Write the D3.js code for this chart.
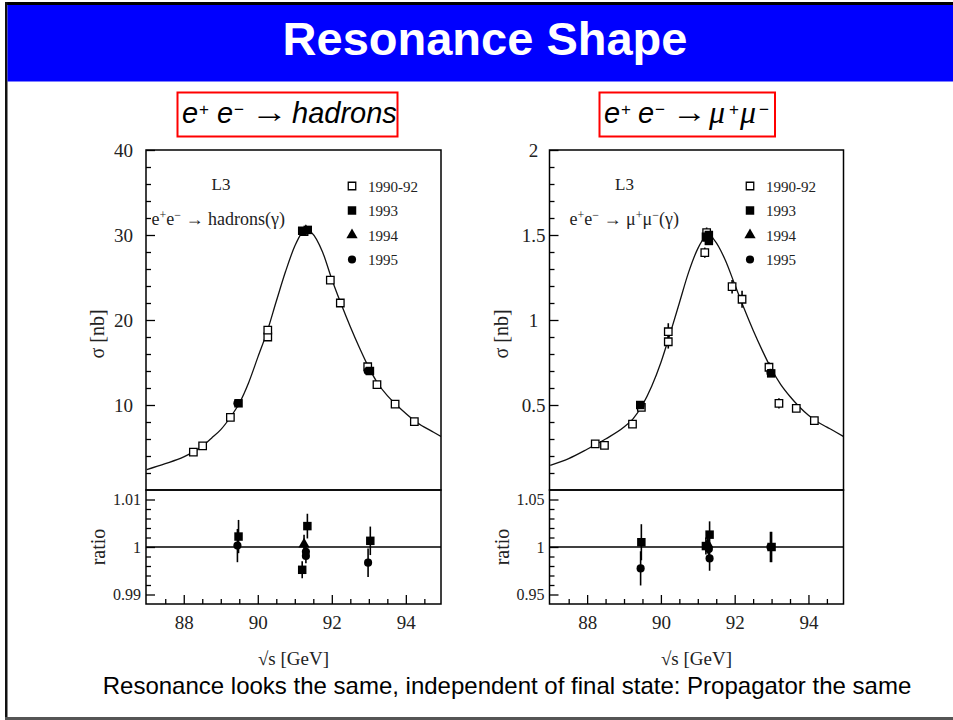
<!DOCTYPE html>
<html lang="en">
<head>
<meta charset="utf-8">
<title>Resonance Shape</title>
<script src="https://d3js.org/d3.v7.min.js"></script>
<style>
  body { margin: 0; background: #fff; }
  #slide svg { display: block; }
</style>
</head>
<body>
<div id="slide"></div>
<script>
// ---- shared axis values ----
const xDomain = [86.98, 94.95];
const xTickLabels = [88, 90, 92, 94];
const xMinorTicks = [87.5, 88.5, 89, 89.5, 90.5, 91, 91.5, 92.5, 93, 93.5, 94.5];
const legendLabels = ['1990-92', '1993', '1994', '1995'];

// ---- e+e- -> hadrons : [sqrt(s) GeV, sigma nb] ----
const hadCurve = [
  [87.0, 2.4], [87.5, 3.1], [88.0, 3.9], [88.25, 4.45], [88.5, 5.15], [88.75, 6.1],
  [89.0, 7.1], [89.25, 8.5], [89.5, 10.2], [89.75, 12.6], [90.0, 15.6], [90.25, 18.6],
  [90.5, 22.2], [90.75, 25.7], [91.0, 28.7], [91.2, 30.3], [91.3, 30.6], [91.45, 30.3],
  [91.75, 28.0], [92.0, 24.8], [92.25, 21.9], [92.5, 19.2], [92.75, 16.7], [93.0, 14.4],
  [93.25, 12.5], [93.5, 11.1], [93.75, 10.0], [94.0, 9.0], [94.25, 8.1], [94.5, 7.4],
  [94.75, 6.8], [94.95, 6.3]
];
// [sqrt(s), value, error]
const had9092 = [
  [88.26, 4.45, 0.05], [88.51, 5.2, 0.06], [89.26, 8.55, 0.08], [90.27, 18.0, 0.15],
  [90.27, 18.8, 0.15], [91.25, 30.4, 0.2], [91.96, 24.7, 0.2], [92.23, 22.0, 0.2],
  [92.97, 14.5, 0.15], [93.22, 12.4, 0.12], [93.71, 10.1, 0.1], [94.23, 8.05, 0.1]
];
const had1993 = [[89.48, 10.2, 0.05], [91.2, 30.5, 0.1], [91.35, 30.6, 0.1], [93.03, 14.0, 0.08]];
const had1994 = [[91.3, 30.5, 0.1]];
const had1995 = [[89.45, 10.2, 0.05], [91.3, 30.5, 0.1], [92.97, 14.0, 0.08]];
const hadRatio9092 = [];
const hadRatio1993 = [[89.48, 1.0022, 0.0035], [91.2, 0.9952, 0.0018], [91.34, 1.0044, 0.0026], [93.04, 1.0013, 0.003]];
const hadRatio1994 = [[91.25, 1.0006, 0.002]];
const hadRatio1995 = [[89.45, 1.0003, 0.0035], [91.3, 0.999, 0.0015], [91.3, 0.9981, 0.0015], [92.98, 0.9967, 0.003]];
const hadYTicks = [10, 20, 30, 40];
const hadYMinor = [2, 4, 6, 8, 12, 14, 16, 18, 22, 24, 26, 28, 32, 34, 36, 38];
const hadRatioTicks = [0.99, 1, 1.01];
const hadRatioMinor = [0.992, 0.994, 0.996, 0.998, 1.002, 1.004, 1.006, 1.008];

// ---- e+e- -> mu+mu- ----
const muCurve = [
  [87.0, 0.145], [87.5, 0.185], [88.0, 0.24], [88.5, 0.30], [89.0, 0.37], [89.25, 0.42],
  [89.5, 0.50], [89.75, 0.61], [90.0, 0.75], [90.25, 0.92], [90.5, 1.10], [90.75, 1.28],
  [91.0, 1.42], [91.2, 1.49], [91.3, 1.50], [91.45, 1.47], [91.75, 1.35], [92.0, 1.21],
  [92.25, 1.07], [92.5, 0.94], [92.75, 0.82], [93.0, 0.71], [93.25, 0.62], [93.5, 0.55],
  [93.75, 0.49], [94.0, 0.44], [94.25, 0.40], [94.5, 0.37], [94.75, 0.34], [94.95, 0.315]
];
const mu9092 = [
  [88.22, 0.271, 0.015], [88.47, 0.263, 0.015], [89.23, 0.388, 0.02], [89.47, 0.486, 0.02],
  [90.2, 0.931, 0.05], [90.2, 0.872, 0.04], [91.19, 1.396, 0.03], [91.24, 1.514, 0.03],
  [91.93, 1.196, 0.04], [92.2, 1.122, 0.05], [92.93, 0.722, 0.03], [93.2, 0.51, 0.03],
  [93.67, 0.48, 0.02], [94.16, 0.408, 0.02]
];
const mu1993 = [[89.44, 0.5, 0.01], [91.22, 1.49, 0.02], [91.3, 1.5, 0.02], [91.3, 1.465, 0.02], [92.99, 0.686, 0.015]];
const mu1994 = [[91.27, 1.48, 0.02]];
const mu1995 = [[89.45, 0.5, 0.01], [91.3, 1.48, 0.02], [92.97, 0.69, 0.015]];
const muRatio9092 = [];
const muRatio1993 = [[89.47, 1.005, 0.019], [91.22, 1.001, 0.009], [91.32, 1.013, 0.014], [93.0, 1.0, 0.016]];
const muRatio1994 = [[91.27, 1.003, 0.01]];
const muRatio1995 = [[89.45, 0.9775, 0.018], [91.3, 0.998, 0.01], [91.32, 0.988, 0.013], [92.97, 1.0, 0.016]];
const muYTicks = [0.5, 1, 1.5, 2];
const muYMinor = [0.1, 0.2, 0.3, 0.4, 0.6, 0.7, 0.8, 0.9, 1.1, 1.2, 1.3, 1.4, 1.6, 1.7, 1.8, 1.9];
const muRatioTicks = [0.95, 1, 1.05];
const muRatioMinor = [0.96, 0.97, 0.98, 0.99, 1.01, 1.02, 1.03, 1.04];

const SERIF = '"Liberation Serif", "Times New Roman", serif';
const SANS = '"Liberation Sans", Arial, sans-serif';

const svg = d3.select('#slide').append('svg')
  .attr('width', 953).attr('height', 720);

/* slide frame + title bar */
svg.append('rect').attr('x', 5).attr('y', 2).attr('width', 948).attr('height', 3).attr('fill', '#000');
svg.append('rect').attr('x', 5).attr('y', 2).attr('width', 2.5).attr('height', 718).attr('fill', '#111');
svg.append('rect').attr('x', 7.5).attr('y', 5).attr('width', 945.5).attr('height', 76.5).attr('fill', '#0000ff');
svg.append('rect').attr('x', 5).attr('y', 717).attr('width', 948).attr('height', 3).attr('fill', '#555');

svg.append('text')
  .attr('x', 485).attr('y', 55)
  .attr('text-anchor', 'middle')
  .style('font-family', SANS).style('font-weight', 'bold').style('font-size', '47px')
  .attr('fill', '#fff')
  .text('Resonance Shape');

svg.append('text')
  .attr('x', 507).attr('y', 694)
  .attr('text-anchor', 'middle')
  .style('font-family', SANS).style('font-size', '24px')
  .attr('fill', '#000')
  .text('Resonance looks the same, independent of final state: Propagator the same');

/* red boxed headings */
function boxText(g, x, y, str, size, opts) {
  const t = g.append('text').attr('x', x).attr('y', y)
    .style('font-family', opts.family || SANS)
    .style('font-style', opts.italic ? 'italic' : 'normal')
    .style('font-size', size + 'px').attr('fill', '#000').text(str);
  if (opts.len) t.attr('textLength', opts.len).attr('lengthAdjust', 'spacingAndGlyphs');
  return t;
}
const head = svg.append('g');
head.append('rect').attr('x', 177.5).attr('y', 92.5).attr('width', 220).attr('height', 44)
  .attr('fill', 'none').attr('stroke', '#ff0000').attr('stroke-width', 2);
boxText(head, 182, 123, 'e', 29, {italic: true});
boxText(head, 199, 115, '+', 17, {});
boxText(head, 217, 123, 'e', 29, {italic: true});
boxText(head, 234, 115, '\u2212', 17, {});
boxText(head, 251, 122, '\u2192', 30, {family: SERIF, len: 37});
boxText(head, 292, 123, 'hadrons', 29, {italic: true});

head.append('rect').attr('x', 599.5).attr('y', 92.5).attr('width', 175.5).attr('height', 44)
  .attr('fill', 'none').attr('stroke', '#ff0000').attr('stroke-width', 2);
boxText(head, 604, 123, 'e', 29, {italic: true});
boxText(head, 621, 115, '+', 17, {});
boxText(head, 638, 123, 'e', 29, {italic: true});
boxText(head, 655, 115, '\u2212', 17, {});
boxText(head, 672, 122, '\u2192', 30, {family: SERIF, len: 35});
boxText(head, 709, 123, '\u03bc', 32, {italic: true, family: SERIF});
boxText(head, 729, 115, '+', 17, {});
boxText(head, 740, 123, '\u03bc', 32, {italic: true, family: SERIF});
boxText(head, 759, 115, '\u2212', 17, {});

/* plot symbols */
const symbolPath = {
  open: d3.symbol().type(d3.symbolSquare).size(56)(),
  y1993: d3.symbol().type(d3.symbolSquare).size(72)(),
  y1994: d3.symbol().type(d3.symbolTriangle).size(55)(),
  y1995: d3.symbol().type(d3.symbolCircle).size(52)()
};
const kinds = ['open', 'y1993', 'y1994', 'y1995'];

function drawPoints(g, data, x, y, kind) {
  g.append('g').selectAll('line').data(data).join('line')
    .attr('x1', d => x(d[0])).attr('x2', d => x(d[0]))
    .attr('y1', d => y(d[1] - d[2])).attr('y2', d => y(d[1] + d[2]))
    .attr('stroke', '#000').attr('stroke-width', 1.6);
  g.append('g').selectAll('path').data(data).join('path')
    .attr('d', symbolPath[kind])
    .attr('transform', d => `translate(${x(d[0])},${y(d[1])})`)
    .attr('fill', kind === 'open' ? '#fff' : '#000')
    .attr('stroke', '#000')
    .attr('stroke-width', kind === 'open' ? 1.3 : 0);
}

function leftAxis(g, scale, xPos, major, minor, size, anchor, offset) {
  const mi = g.append('g').attr('transform', `translate(${xPos},0)`)
    .call(d3.axisLeft(scale).tickValues(minor).tickSizeInner(-5).tickSizeOuter(0).tickFormat(''));
  mi.select('.domain').remove();
  mi.selectAll('line').attr('stroke-width', 1.3);
  const ma = g.append('g').attr('transform', `translate(${xPos},0)`)
    .call(d3.axisLeft(scale).tickValues(major).tickSizeInner(-9).tickSizeOuter(0).tickFormat(d => String(d)));
  ma.select('.domain').remove();
  ma.selectAll('line').attr('stroke-width', 1.3);
  ma.selectAll('text').attr('x', -offset).attr('text-anchor', anchor).attr('fill', '#222')
    .style('font-family', SERIF).style('font-size', size + 'px');
}

function drawPlot(p) {
  const x = d3.scaleLinear().domain(xDomain).range([p.left, p.right]);
  const y = d3.scaleLinear().domain(p.yDomain).range([490, 150]);
  const r = d3.scaleLinear().domain(p.rDomain).range([604, 490]);
  const g = svg.append('g');

  // fit curve
  const clip = 'clip' + p.id;
  g.append('clipPath').attr('id', clip).append('rect')
    .attr('x', p.left).attr('y', 150).attr('width', p.right - p.left).attr('height', 340);
  g.append('path').datum(p.curve)
    .attr('clip-path', `url(#${clip})`)
    .attr('d', d3.line().x(d => x(d[0])).y(d => y(d[1])).curve(d3.curveMonotoneX))
    .attr('fill', 'none').attr('stroke', '#111').attr('stroke-width', 1.3);

  // ratio = 1 line
  g.append('line').attr('x1', p.left).attr('x2', p.right)
    .attr('y1', r(1)).attr('y2', r(1)).attr('stroke', '#000').attr('stroke-width', 1.5);

  // data points, main panel then ratio panel
  p.series.forEach((s, i) => drawPoints(g, s, x, y, kinds[i]));
  p.ratio.forEach((s, i) => drawPoints(g, s, x, r, kinds[i]));

  // axes
  leftAxis(g, y, p.left, p.yTicks, p.yMinor, 19, p.yAnchor, p.yOffset);
  leftAxis(g, r, p.left, p.rTicks, p.rMinor, 16, 'end', 5);

  const xm = g.append('g').attr('transform', 'translate(0,604)')
    .call(d3.axisBottom(x).tickValues(xMinorTicks).tickSizeInner(-5).tickSizeOuter(0).tickFormat(''));
  xm.select('.domain').remove();
  xm.selectAll('line').attr('stroke-width', 1.3);
  const xa = g.append('g').attr('transform', 'translate(0,604)')
    .call(d3.axisBottom(x).tickValues(xTickLabels).tickSizeInner(-9).tickSizeOuter(0).tickPadding(12));
  xa.select('.domain').remove();
  xa.selectAll('line').attr('stroke-width', 1.3);
  xa.selectAll('text').attr('fill', '#222').style('font-family', SERIF).style('font-size', '19px');

  // frames
  g.append('rect').attr('x', p.left).attr('y', 150).attr('width', p.right - p.left).attr('height', 340)
    .attr('fill', 'none').attr('stroke', '#000').attr('stroke-width', 1.5);
  g.append('rect').attr('x', p.left).attr('y', 490).attr('width', p.right - p.left).attr('height', 114)
    .attr('fill', 'none').attr('stroke', '#000').attr('stroke-width', 1.5);

  // axis titles
  g.append('text').attr('transform', `translate(${p.left - 42},334) rotate(-90)`)
    .attr('text-anchor', 'middle').attr('fill', '#222')
    .style('font-family', SERIF).style('font-size', '20px').text('\u03c3 [nb]');
  g.append('text').attr('transform', `translate(${p.left - 41},547) rotate(-90)`)
    .attr('text-anchor', 'middle').attr('fill', '#222')
    .style('font-family', SERIF).style('font-size', '20px').text('ratio');
  g.append('text').attr('x', (p.left + p.right) / 2).attr('y', 665)
    .attr('text-anchor', 'middle').attr('fill', '#222')
    .style('font-family', SERIF).style('font-size', '19px').text('\u221as [GeV]');

  // L3 and process label
  g.append('text').attr('x', p.left + 75).attr('y', 190).attr('text-anchor', 'middle')
    .attr('fill', '#222').style('font-family', SERIF).style('font-size', '17px').text('L3');
  const pl = g.append('text').attr('x', p.left + p.procX).attr('y', 225).attr('fill', '#222')
    .style('font-family', SERIF).style('font-size', '18px');
  p.proc.forEach(part => {
    pl.append('tspan').text(part[0])
      .attr('dy', part[1])
      .style('font-size', part[1] < 0 ? '12px' : null);
  });

  // legend
  legendLabels.forEach((lab, i) => {
    const ly = 186 + i * 24.5;
    g.append('path').attr('d', symbolPath[kinds[i]])
      .attr('transform', `translate(${p.left + p.legX},${ly})`)
      .attr('fill', i === 0 ? '#fff' : '#000').attr('stroke', '#000')
      .attr('stroke-width', i === 0 ? 1.3 : 0);
    g.append('text').attr('x', p.left + p.legX + 16).attr('y', ly + 5.5)
      .attr('fill', '#222').style('font-family', SERIF).style('font-size', '15px').text(lab);
  });
}

drawPlot({
  id: 'had', left: 146, right: 441,
  yDomain: [0, 40], rDomain: [0.988, 1.012],
  curve: hadCurve,
  series: [had9092, had1993, had1994, had1995],
  ratio: [hadRatio9092, hadRatio1993, hadRatio1994, hadRatio1995],
  yTicks: hadYTicks, yMinor: hadYMinor, yAnchor: 'end', yOffset: 13,
  rTicks: hadRatioTicks, rMinor: hadRatioMinor,
  procX: 5.5, legX: 206,
  proc: [['e', 0], ['+', -6], ['e', 6], ['\u2212', -6], [' \u2192 hadrons(\u03b3)', 6]]
});

drawPlot({
  id: 'mu', left: 549.5, right: 843.5,
  yDomain: [0, 2], rDomain: [0.94, 1.06],
  curve: muCurve,
  series: [mu9092, mu1993, mu1994, mu1995],
  ratio: [muRatio9092, muRatio1993, muRatio1994, muRatio1995],
  yTicks: muYTicks, yMinor: muYMinor, yAnchor: 'middle', yOffset: 16,
  rTicks: muRatioTicks, rMinor: muRatioMinor,
  procX: 20, legX: 200.5,
  proc: [['e', 0], ['+', -6], ['e', 6], ['\u2212', -6], [' \u2192 \u03bc', 6], ['+', -6], ['\u03bc', 6], ['\u2212', -6], ['(\u03b3)', 6]]
});
</script>
</body>
</html>
